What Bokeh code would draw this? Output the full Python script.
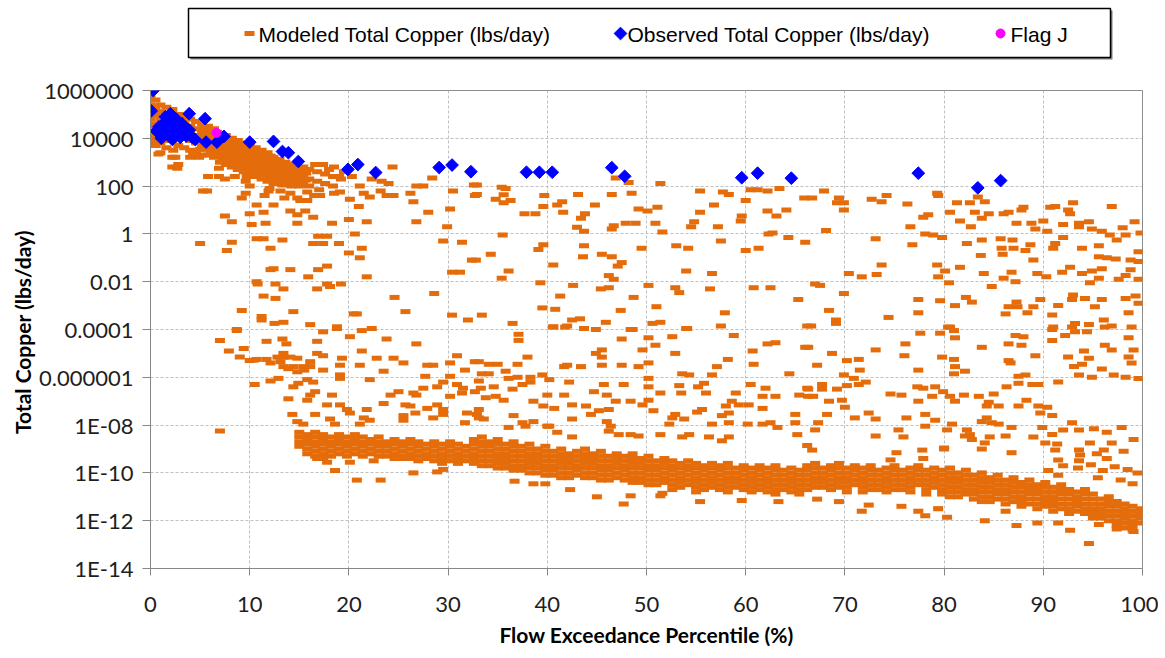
from bokeh.plotting import figure
from bokeh.models import Range1d, FixedTicker, CustomJSTickFormatter
from bokeh.layouts import column
from bokeh.embed import file_html
from bokeh.resources import INLINE
from bokeh.core.properties import value

# ---------------- data ----------------
x_ticks = [0, 10, 20, 30, 40, 50, 60, 70, 80, 90, 100]
y_ticks = [1e-14, 1e-12, 1e-10, 1e-08, 1e-06, 1e-04, 1e-02, 1, 100, 1e4, 1e6]
y_tick_exps = [-14, -12, -10, -8, -6, -4, -2, 0, 2, 4, 6]
y_tick_labels = ["1E-14", "1E-12", "1E-10", "1E-08", "0.000001", "0.0001", "0.01", "1", "100", "10000", "1000000"]
legend_labels = ["Modeled Total Copper  (lbs/day)", "Observed Total Copper  (lbs/day)", "Flag J"]

# Observed total copper (diamonds)
obs_x = [0.27, 0.07, 0.85, 0.6, 1.2, 1.4, 1.5, 1.7, 2.0, 2.0, 2.35, 2.5, 2.8, 3.0, 3.3, 3.9, 3.9, 4.2,
         5.5, 5.6, 6.7, 7.4, 10.0, 12.4, 13.3, 13.9, 14.9, 19.9, 20.9, 22.7, 29.1, 30.4, 32.3, 37.9,
         39.2, 40.5, 46.5, 47.8, 59.6, 61.2, 64.6, 77.4, 83.4, 85.7,
         0.9, 1.8, 2.6, 3.6, 4.5, 1.1, 2.2, 3.2, 1.9]
obs_y = [1e6, 1.4e5, 3e4, 2e4, 1.26e4, 4.5e4, 8e4, 2.2e4, 1.07e5, 1.6e4, 4e4, 1.6e4, 3e4, 1.1e4, 1.9e4,
         2.2e4, 1.07e5, 1.1e4, 6.6e4, 6.9e3, 6.9e3, 1.2e4, 6.9e3, 7.4e3, 2.8e3, 2.5e3, 1.07e3, 500, 800,
         370, 600, 760, 400, 380, 380, 380, 590, 257, 224, 347, 214, 347, 85, 170,
         1.6e4, 3.2e4, 6.3e4, 1.26e4, 9e3, 1e4, 9e3, 4e4, 5.6e4]

# Flag J
flag_x = [6.65]
flag_y = [1.7e4]

# Modeled total copper: dense upper cluster, by column (x, values)
mod_top_cols = [
    (0.0, [5e5, 2.5e5, 1.3e5, 6.3e4, 3.2e4, 1.6e4, 8e3]),
    (0.5, [4e5, 2e5, 1e5, 4e4, 2e4, 1e4, 5e3]),
    (1.0, [2.5e5, 1.3e5, 6.3e4, 2.5e4, 1.3e4, 6.3e3, 2.5e3]),
    (1.6, [2e5, 1e5, 4e4, 2e4, 8e3, 4e3]),
    (2.2, [1.6e5, 6.3e4, 3.2e4, 1.6e4, 8e3, 1.6e3]),
    (2.8, [1e5, 5e4, 2.5e4, 1e4, 5e3, 800]),
    (3.4, [8e4, 4e4, 2e4, 1e4, 4e3]),
    (4.0, [6.3e4, 3.2e4, 1.6e4, 8e3, 3.2e3, 1.6e3]),
    (4.6, [5e4, 2.5e4, 1.3e4, 6.3e3, 2.5e3]),
    (5.2, [4e4, 2e4, 1e4, 5e3, 2e3]),
    (5.5, [2.8e4, 1.4e4, 7e3, 3.5e3]),
    (5.8, [3.2e4, 1.6e4, 8e3, 4e3, 2e3, 250]),
    (6.1, [2.2e4, 1.1e4, 5.6e3, 2.8e3]),
    (6.4, [2.5e4, 1.3e4, 6.3e3, 3.2e3, 1.6e3]),
    (6.7, [1.8e4, 9e3, 4.5e3, 2.2e3]),
    (7.0, [1.6e4, 8e3, 4e3, 2e3, 1e3]),
    (7.3, [1.1e4, 5.6e3, 2.8e3, 1.4e3]),
    (7.6, [1.3e4, 6.3e3, 3.2e3, 1.6e3, 800]),
    (7.9, [9e3, 4.5e3, 2.2e3, 1.1e3]),
    (8.2, [1e4, 5e3, 2.5e3, 1.3e3, 630]),
    (8.5, [7e3, 3.5e3, 1.8e3, 900]),
    (8.8, [8e3, 4e3, 2e3, 1e3, 500]),
    (9.1, [5.6e3, 2.8e3, 1.4e3, 700]),
    (9.4, [6.3e3, 3.2e3, 1.6e3, 800, 400]),
    (9.7, [4.5e3, 2.2e3, 1.1e3, 560]),
    (10.0, [5e3, 2.5e3, 1.3e3, 630, 320]),
    (10.3, [3.5e3, 1.8e3, 900, 450]),
    (10.6, [4e3, 2e3, 1e3, 500, 250]),
    (10.9, [2.8e3, 1.4e3, 700, 350]),
    (11.2, [3.2e3, 1.6e3, 800, 400, 200]),
    (11.5, [2.2e3, 1.1e3, 560, 280]),
    (11.8, [2.5e3, 1.3e3, 630, 320, 160]),
    (12.1, [1.8e3, 900, 450, 220]),
    (12.4, [1.6e3, 800, 500, 250, 130]),
    (12.7, [1.1e3, 560, 280, 140]),
    (13.0, [1.3e3, 630, 320, 160]),
    (13.3, [900, 450, 220, 110]),
    (13.6, [1e3, 500, 250, 130]),
    (13.9, [700, 350, 180]),
    (14.2, [800, 400, 200, 100]),
    (14.5, [560, 280, 140]),
    (14.8, [630, 320, 160]),
    (15.1, [450, 220, 110]),
    (15.4, [630, 250, 130]),
    (15.7, [350, 180]),
    (16.0, [500, 200, 100]),
    (16.8, [400, 160]),
    (17.6, [320, 130]),
    (18.4, [250, 100]),
    (19.2, [200]),
]

# Modeled: dense low band, by column (x, values)
mod_band_cols = [
    (15.0, [5e-9, 3.2e-9, 2e-9, 1.3e-9]),
    (15.8, [4e-9, 2.5e-9, 1.6e-9, 1e-9, 6.3e-10]),
    (16.6, [5e-9, 3.2e-9, 2e-9, 1.3e-9, 8e-10, 5e-10]),
    (17.4, [4e-9, 2.5e-9, 1.6e-9, 1e-9, 6.3e-10, 4e-10]),
    (18.2, [3.2e-9, 2e-9, 1.3e-9, 8e-10, 5e-10]),
    (19.0, [4e-9, 2.5e-9, 1.6e-9, 1e-9, 6.3e-10]),
    (19.8, [3.2e-9, 2e-9, 1.3e-9, 8e-10, 5e-10]),
    (20.6, [4e-9, 2.5e-9, 1.6e-9, 1e-9, 6.3e-10]),
    (21.4, [3.2e-9, 2e-9, 1.3e-9, 8e-10, 5e-10]),
    (22.2, [2.5e-9, 1.6e-9, 1e-9, 6.3e-10]),
    (23.0, [3.2e-9, 2e-9, 1.3e-9, 8e-10, 5e-10]),
    (23.8, [2e-9, 1.3e-9, 8e-10, 5e-10]),
    (24.6, [2.5e-9, 1.6e-9, 1e-9, 6.3e-10, 4e-10]),
    (25.4, [2e-9, 1.3e-9, 8e-10, 5e-10]),
    (26.2, [2.5e-9, 1.6e-9, 1e-9, 6.3e-10, 4e-10]),
    (27.0, [2e-9, 1.3e-9, 8e-10, 5e-10, 3.2e-10]),
    (27.8, [1.6e-9, 1e-9, 6.3e-10, 4e-10]),
    (28.6, [2e-9, 1.3e-9, 8e-10, 5e-10, 3.2e-10]),
    (29.4, [1.6e-9, 1e-9, 6.3e-10, 4e-10, 2.5e-10]),
    (30.2, [2e-9, 1.3e-9, 8e-10, 5e-10, 3.2e-10]),
    (31.0, [1.6e-9, 1e-9, 6.3e-10, 4e-10, 2.5e-10]),
    (31.8, [1.3e-9, 8e-10, 5e-10, 3.2e-10]),
    (32.6, [2.5e-9, 1.6e-9, 1e-9, 6.3e-10, 4e-10, 2.5e-10]),
    (33.4, [3.2e-9, 2e-9, 1.3e-9, 8e-10, 5e-10, 3.2e-10, 2e-10]),
    (34.2, [2e-9, 1.3e-9, 8e-10, 5e-10, 3.2e-10, 2e-10]),
    (35.0, [2.5e-9, 1.6e-9, 1e-9, 6.3e-10, 4e-10, 2.5e-10, 1.6e-10]),
    (35.8, [1.6e-9, 1e-9, 6.3e-10, 4e-10, 2.5e-10, 1.6e-10]),
    (36.6, [2e-9, 1.3e-9, 8e-10, 5e-10, 3.2e-10, 2e-10, 1.3e-10]),
    (37.4, [1.3e-9, 8e-10, 5e-10, 3.2e-10, 2e-10, 1.3e-10]),
    (38.2, [1.6e-9, 1e-9, 6.3e-10, 4e-10, 2.5e-10, 1.6e-10, 1e-10]),
    (39.0, [1e-9, 6.3e-10, 4e-10, 2.5e-10, 1.6e-10, 1e-10]),
    (39.8, [1.3e-9, 8e-10, 5e-10, 3.2e-10, 2e-10, 1.3e-10, 8e-11]),
    (40.6, [8e-10, 5e-10, 3.2e-10, 2e-10, 1.3e-10, 8e-11]),
    (41.4, [1e-9, 6.3e-10, 4e-10, 2.5e-10, 1.6e-10, 1e-10, 6.3e-11]),
    (42.2, [6.3e-10, 4e-10, 2.5e-10, 1.6e-10, 1e-10, 6.3e-11]),
    (43.0, [8e-10, 5e-10, 3.2e-10, 2e-10, 1.3e-10, 8e-11]),
    (43.8, [1e-9, 6.3e-10, 4e-10, 2.5e-10, 1.6e-10, 1e-10, 6.3e-11]),
    (44.6, [6.3e-10, 4e-10, 2.5e-10, 1.6e-10, 1e-10, 6.3e-11]),
    (45.4, [8e-10, 5e-10, 3.2e-10, 2e-10, 1.3e-10, 8e-11, 5e-11]),
    (46.2, [5e-10, 3.2e-10, 2e-10, 1.3e-10, 8e-11, 5e-11]),
    (47.0, [6.3e-10, 4e-10, 2.5e-10, 1.6e-10, 1e-10, 6.3e-11]),
    (47.8, [5e-10, 3.2e-10, 2e-10, 1.3e-10, 8e-11, 5e-11]),
    (48.6, [6.3e-10, 4e-10, 2.5e-10, 1.6e-10, 1e-10, 6.3e-11, 4e-11]),
    (49.4, [4e-10, 2.5e-10, 1.6e-10, 1e-10, 6.3e-11, 4e-11]),
    (50.2, [5e-10, 3.2e-10, 2e-10, 1.3e-10, 8e-11, 5e-11, 3.2e-11]),
    (51.0, [3.2e-10, 2e-10, 1.3e-10, 8e-11, 5e-11, 3.2e-11]),
    (51.8, [4e-10, 2.5e-10, 1.6e-10, 1e-10, 6.3e-11, 4e-11]),
    (52.6, [3.2e-10, 2e-10, 1.3e-10, 8e-11, 5e-11, 3.2e-11, 2e-11]),
    (53.4, [2.5e-10, 1.6e-10, 1e-10, 6.3e-11, 4e-11, 2.5e-11]),
    (54.2, [3.2e-10, 2e-10, 1.3e-10, 8e-11, 5e-11, 3.2e-11]),
    (55.0, [2.5e-10, 1.6e-10, 1e-10, 6.3e-11, 4e-11, 2.5e-11, 1.6e-11]),
    (55.8, [2e-10, 1.3e-10, 8e-11, 5e-11, 3.2e-11, 2e-11]),
    (56.6, [2.5e-10, 1.6e-10, 1e-10, 6.3e-11, 4e-11, 2.5e-11]),
    (57.4, [2e-10, 1.3e-10, 8e-11, 5e-11, 3.2e-11, 2e-11]),
    (58.2, [2.5e-10, 1.6e-10, 1e-10, 6.3e-11, 4e-11, 2.5e-11, 1.6e-11]),
    (59.0, [1.6e-10, 1e-10, 6.3e-11, 4e-11, 2.5e-11]),
    (59.8, [2e-10, 1.3e-10, 8e-11, 5e-11, 3.2e-11, 2e-11]),
    (60.6, [1.6e-10, 1e-10, 6.3e-11, 4e-11, 2.5e-11, 1.6e-11]),
    (61.4, [2e-10, 1.3e-10, 8e-11, 5e-11, 3.2e-11, 2e-11]),
    (62.2, [1.6e-10, 1e-10, 6.3e-11, 4e-11, 2.5e-11, 1.6e-11]),
    (63.0, [2e-10, 1.3e-10, 8e-11, 5e-11, 3.2e-11, 2e-11, 1.3e-11]),
    (63.8, [1.3e-10, 8e-11, 5e-11, 3.2e-11, 2e-11]),
    (64.6, [1.6e-10, 1e-10, 6.3e-11, 4e-11, 2.5e-11, 1.6e-11]),
    (65.4, [1.3e-10, 8e-11, 5e-11, 3.2e-11, 2e-11, 1.3e-11]),
    (66.2, [2e-10, 1.3e-10, 8e-11, 5e-11, 3.2e-11, 2e-11]),
    (67.0, [2.5e-10, 1.6e-10, 1e-10, 6.3e-11, 4e-11, 2.5e-11]),
    (67.8, [1.6e-10, 1e-10, 6.3e-11, 4e-11, 2.5e-11]),
    (68.6, [2e-10, 1.3e-10, 8e-11, 5e-11, 3.2e-11, 2e-11]),
    (69.4, [2.5e-10, 1.6e-10, 1e-10, 6.3e-11, 4e-11, 2.5e-11]),
    (70.2, [1.6e-10, 1e-10, 6.3e-11, 4e-11, 2.5e-11, 1.6e-11]),
    (71.0, [2e-10, 1.3e-10, 8e-11, 5e-11, 3.2e-11]),
    (71.8, [1.6e-10, 1e-10, 6.3e-11, 4e-11, 2.5e-11, 1.6e-11]),
    (72.6, [2e-10, 1.3e-10, 8e-11, 5e-11, 3.2e-11, 2e-11]),
    (73.4, [1.3e-10, 8e-11, 5e-11, 3.2e-11, 2e-11]),
    (74.2, [1.6e-10, 1e-10, 6.3e-11, 4e-11, 2.5e-11, 1.6e-11]),
    (75.0, [2e-10, 1.3e-10, 8e-11, 5e-11, 3.2e-11, 2e-11]),
    (75.8, [1.3e-10, 8e-11, 5e-11, 3.2e-11, 2e-11]),
    (76.6, [1.6e-10, 1e-10, 6.3e-11, 4e-11, 2.5e-11, 1.6e-11]),
    (77.4, [2e-10, 1.3e-10, 8e-11, 5e-11, 3.2e-11]),
    (78.2, [1.3e-10, 8e-11, 5e-11, 3.2e-11, 2e-11, 1.3e-11]),
    (79.0, [1.6e-10, 1e-10, 6.3e-11, 4e-11, 2.5e-11]),
    (79.8, [1.3e-10, 8e-11, 5e-11, 3.2e-11, 2e-11, 1.3e-11]),
    (80.6, [1.6e-10, 1e-10, 6.3e-11, 4e-11, 2.5e-11, 1.6e-11, 1e-11]),
    (81.4, [1e-10, 6.3e-11, 4e-11, 2.5e-11, 1.6e-11, 1e-11]),
    (82.2, [1.3e-10, 8e-11, 5e-11, 3.2e-11, 2e-11, 1.3e-11]),
    (83.0, [8e-11, 5e-11, 3.2e-11, 2e-11, 1.3e-11, 8e-12]),
    (83.8, [1e-10, 6.3e-11, 4e-11, 2.5e-11, 1.6e-11, 1e-11, 6.3e-12]),
    (84.6, [6.3e-11, 4e-11, 2.5e-11, 1.6e-11, 1e-11, 6.3e-12]),
    (85.4, [8e-11, 5e-11, 3.2e-11, 2e-11, 1.3e-11, 8e-12]),
    (86.2, [5e-11, 3.2e-11, 2e-11, 1.3e-11, 8e-12, 5e-12]),
    (87.0, [6.3e-11, 4e-11, 2.5e-11, 1.6e-11, 1e-11, 6.3e-12]),
    (87.8, [4e-11, 2.5e-11, 1.6e-11, 1e-11, 6.3e-12, 4e-12]),
    (88.6, [5e-11, 3.2e-11, 2e-11, 1.3e-11, 8e-12, 5e-12]),
    (89.4, [3.2e-11, 2e-11, 1.3e-11, 8e-12, 5e-12, 3.2e-12]),
    (90.2, [4e-11, 2.5e-11, 1.6e-11, 1e-11, 6.3e-12, 4e-12]),
    (91.0, [2.5e-11, 1.6e-11, 1e-11, 6.3e-12, 4e-12, 2.5e-12]),
    (91.8, [3.2e-11, 2e-11, 1.3e-11, 8e-12, 5e-12, 3.2e-12]),
    (92.6, [2e-11, 1.3e-11, 8e-12, 5e-12, 3.2e-12, 2e-12]),
    (93.4, [1.6e-11, 1e-11, 6.3e-12, 4e-12, 2.5e-12]),
    (94.2, [2e-11, 1.3e-11, 8e-12, 5e-12, 3.2e-12, 2e-12]),
    (95.0, [1.3e-11, 8e-12, 5e-12, 3.2e-12, 2e-12, 1.3e-12]),
    (95.8, [8e-12, 5e-12, 3.2e-12, 2e-12, 1.3e-12]),
    (96.6, [1e-11, 6.3e-12, 4e-12, 2.5e-12, 1.6e-12, 1e-12]),
    (97.4, [6.3e-12, 4e-12, 2.5e-12, 1.6e-12, 1e-12, 6.3e-13]),
    (98.2, [5e-12, 3.2e-12, 2e-12, 1.3e-12, 8e-13, 5e-13]),
    (99.0, [4e-12, 2.5e-12, 1.6e-12, 1e-12, 6.3e-13, 4e-13]),
    (99.8, [3.2e-12, 2e-12, 1.3e-12, 8e-13]),
]

# Modeled: scattered points, upper part (x, value)
mod_hi = [
    (0.3, 8e3), (0.8, 2.2e3), (0.5, 5e3), (2.3, 3.2e3), (2.5, 1.6e3), (2.2, 630), (2.7, 560), (4.3, 2.2e3),
    (5.0, 3.5e3), (4.9, 1.6e3), (5.3, 63), (6.9, 560), (6.9, 250), (7.5, 200), (8.5, 250), (9.7, 250),
    (10.0, 100), (9.6, 160), (5.7, 63), (9.6, 50), (9.2, 32), (7.5, 5.6), (8.2, 3.2), (10.0, 7), (10.7, 16),
    (11.4, 8), (12.4, 16), (11.6, 2.8), (10.2, 2.5), (5.0, 0.4), (8.2, 0.45), (7.7, 0.2), (10.7, 0.63),
    (11.4, 0.63), (12.1, 0.25), (13.3, 0.56), (14.1, 9), (14.8, 6.3), (15.6, 9), (14.8, 2.8), (16.4, 5),
    (15.1, 25), (15.8, 25), (16.4, 0.4), (17.4, 0.4), (16.9, 0.8), (17.8, 0.8), (19.0, 0.4), (18.3, 2.8),
    (20.0, 4), (21.0, 14), (20.6, 1), (21.3, 0.25), (20.0, 0.16), (21.1, 0.1), (21.8, 3.2), (21.8, 0.016),
    (20.1, 28), (21.5, 50), (22.1, 35), (23.2, 63), (23.8, 40), (24.5, 40), (26.8, 100), (27.5, 100),
    (26.2, 50), (26.5, 22), (26.8, 3.2), (28.0, 8), (28.4, 220), (30.2, 11), (29.9, 2), (29.5, 0.5),
    (31.4, 0.45), (32.4, 0.08), (30.4, 0.025), (31.2, 0.025), (32.6, 110), (32.7, 40), (30.5, 63),
    (24.4, 630), (18.5, 630), (17.4, 800), (16.6, 800), (20.3, 250), (21.1, 100), (22.3, 200), (23.3, 160),
    (24.0, 130), (10.7, 0.01), (12.6, 0.008), (13.4, 0.005), (11.4, 0.0025), (12.6, 0.002), (12.1, 0.032),
    (12.4, 0.035), (14.1, 0.032), (15.9, 0.016), (16.9, 0.032), (17.8, 0.045), (16.8, 0.005), (17.8, 0.008),
    (18.1, 0.0063), (19.2, 0.008), (24.6, 0.0022), (25.7, 5.6e-4), (20.5, 4.5e-4), (20.8, 4.5e-4),
    (28.6, 0.0032), (9.2, 6.3e-4), (11.2, 3.5e-4), (11.2, 2.5e-4), (14.4, 5.6e-4), (12.5, 1.8e-4),
    (13.4, 2e-4), (16.1, 1.6e-4), (18.8, 1.3e-4), (30.4, 4e-4), (32.0, 2.5e-4), (8.7, 1e-4), (10.8, 0.008),
    (19.5, 400), (18.0, 500), (19.0, 250), (11.9, 63), (13.1, 63), (14.1, 50), (14.8, 32), (15.8, 56),
    (17.1, 40), (18.5, 50), (19.1, 56), (12.0, 80), (11.5, 40), (13.5, 32), (16.5, 40), (15.0, 100), (17.0, 70),
    (32.9, 110), (32.9, 45), (35.4, 90), (35.8, 80), (34.8, 28), (35.6, 43), (35.6, 20), (36.3, 25),
    (37.7, 7), (38.8, 7), (39.7, 40), (39.6, 14), (41.0, 16), (41.5, 22), (41.6, 8), (43.1, 45), (43.8, 7),
    (44.8, 16), (43.4, 4.5), (43.0, 1.9), (43.7, 1.3), (46.5, 45), (46.9, 220), (48.2, 140), (48.5, 50),
    (46.7, 2.2), (46.5, 1.6), (47.9, 2.8), (48.9, 2.8), (49.2, 11), (50.1, 9), (51.1, 13), (51.4, 130),
    (50.9, 2.8), (51.6, 1.2), (55.4, 63), (57.7, 56), (58.3, 45), (56.8, 16), (55.4, 8), (54.8, 3.2),
    (54.5, 2), (57.2, 2), (60.0, 25), (59.6, 5.6), (59.5, 3.5), (60.5, 70), (61.2, 70), (62.2, 63),
    (63.4, 80), (65.9, 32), (62.2, 9), (63.1, 5.6), (64.1, 10), (62.7, 1.1), (64.3, 0.7), (66.0, 0.45),
    (32.8, 0.08), (34.3, 0.14), (35.5, 0.9), (36.1, 0.028), (35.4, 0.014), (39.1, 0.22), (39.6, 0.35),
    (40.6, 0.05), (39.3, 0.009), (43.7, 0.32), (43.6, 0.11), (45.5, 0.14), (46.5, 0.11), (47.5, 0.063),
    (47.1, 0.045), (46.2, 0.018), (46.7, 0.0126), (49.5, 0.25), (53.0, 0.32), (54.2, 0.25), (57.5, 0.5),
    (60.0, 0.2), (61.3, 0.25), (62.3, 1), (54.0, 0.028), (56.6, 0.022), (42.6, 0.007), (45.4, 0.005),
    (46.2, 0.0056), (48.7, 0.0022), (50.2, 0.007), (52.9, 0.0056), (53.3, 0.0035), (56.4, 0.005),
    (60.8, 0.0056), (62.5, 0.0056), (65.3, 0.0018), (41.3, 0.0025), (39.5, 8e-4), (40.8, 7e-4),
    (33.4, 4e-4), (36.5, 1.8e-4), (42.5, 2.5e-4), (43.3, 2.8e-4), (42.0, 1.4e-4), (40.6, 1.3e-4),
    (45.9, 2e-4), (47.4, 6.3e-4), (48.6, 1e-4), (51.0, 9e-4), (50.6, 1.8e-4), (51.4, 2e-4), (54.0, 1.1e-4),
    (57.9, 5e-4), (57.5, 1.4e-4), (66.2, 1.4e-4),
    (67.9, 63), (66.7, 32), (69.4, 32), (69.2, 20), (69.9, 20), (69.9, 10), (72.7, 28), (73.7, 22),
    (74.2, 40), (76.3, 18), (79.3, 50), (79.4, 40), (77.9, 5), (78.4, 6.3), (76.6, 2), (68.1, 1.4),
    (73.1, 0.63), (76.8, 0.35), (78.1, 1), (78.9, 0.9), (79.8, 0.7), (81.3, 20), (82.6, 20), (84.1, 22),
    (83.4, 35), (80.6, 8), (81.6, 3.5), (83.1, 8), (83.8, 4.5), (84.5, 7), (86.0, 7), (86.5, 8), (87.3, 2.8),
    (88.0, 13), (87.8, 10), (88.8, 2.8), (90.0, 3.5), (89.2, 1.6), (90.4, 1.3), (90.7, 13), (91.2, 14),
    (92.5, 10), (93.0, 20), (92.7, 7), (92.0, 2.5), (93.6, 2.8), (93.6, 2), (94.6, 3.2), (94.9, 1.6),
    (96.9, 14), (99.2, 3.2), (98.0, 1.8), (95.9, 1.3), (96.7, 0.9), (97.4, 0.56), (98.3, 0.9), (99.8, 1.1),
    (82.7, 2), (82.3, 0.4), (83.8, 0.56), (85.7, 0.63), (86.9, 0.56), (87.0, 0.25), (85.8, 0.25),
    (85.9, 0.14), (83.7, 0.126), (88.2, 0.2), (88.7, 0.35), (89.0, 0.08), (91.2, 0.4), (91.0, 0.25),
    (92.0, 0.7), (93.9, 0.25), (95.6, 0.32), (95.6, 0.11), (96.4, 0.1), (97.3, 0.09), (99.6, 0.18),
    (98.8, 0.08), (99.6, 0.07), (92.7, 0.04), (91.9, 0.025), (94.9, 0.028), (95.9, 0.035), (98.8, 0.032),
    (97.6, 0.0126), (98.3, 0.018), (99.6, 0.0126), (94.7, 0.009), (93.9, 0.022), (95.6, 0.014),
    (89.4, 0.022), (90.3, 0.016), (86.8, 0.025), (86.0, 0.014), (87.2, 0.01), (84.0, 0.022), (81.6, 0.04),
    (80.1, 0.028), (79.3, 0.05), (79.4, 0.016), (80.5, 0.009), (73.7, 0.05), (73.2, 0.02), (70.4, 0.022),
    (71.7, 0.016), (67.0, 0.008), (67.5, 0.007), (69.9, 0.0032), (84.8, 0.0063), (82.2, 0.0022),
    (82.8, 0.0014), (81.1, 0.001), (79.6, 0.0016), (77.4, 0.0018), (77.4, 5e-4), (86.5, 9e-4), (87.4, 9e-4),
    (87.3, 0.0014), (88.4, 5e-4), (89.0, 9e-4), (89.7, 0.0018), (91.5, 0.001), (93.0, 0.0028),
    (92.9, 0.0018), (94.2, 0.002), (95.9, 0.0018), (95.2, 9e-4), (98.3, 0.002), (99.3, 0.0025),
    (98.6, 5e-4), (99.6, 0.00126), (96.1, 2.5e-4), (94.6, 1.6e-4), (93.2, 1.8e-4), (92.9, 1.26e-4),
    (91.0, 1.26e-4), (96.9, 1.4e-4), (98.9, 1.26e-4), (74.4, 3.2e-4), (68.4, 6.3e-4), (69.1, 2.5e-4),
    (69.1, 1.8e-4), (66.6, 1.4e-4), (80.4, 1.26e-4), (86.2, 4.5e-4), (90.9, 4e-4),
]

# Modeled: scattered points, middle part (x, value)
mod_mid = [
    (7.0, 3.5e-5), (7.9, 1.26e-5), (9.0, 7e-6), (9.4, 1.6e-5), (10.0, 5e-6), (10.7, 5.6e-6), (11.7, 5.6e-6),
    (11.7, 3.2e-5), (13.3, 4e-5), (13.7, 2.5e-5), (8.7, 9e-5), (10.5, 5e-7), (12.1, 7e-7), (12.9, 9e-7),
    (13.9, 1.26e-7), (14.3, 2.8e-8), (14.8, 1.4e-8), (15.4, 1.1e-8), (14.4, 4e-7), (14.9, 5.6e-7),
    (15.8, 8e-7), (16.4, 6.3e-7), (16.6, 2.5e-7), (16.1, 1.8e-7), (15.8, 1.1e-7), (16.6, 2.8e-8),
    (18.1, 1.8e-8), (18.6, 1.1e-8), (17.8, 7e-8), (18.3, 1.8e-7), (19.1, 7e-8), (19.8, 4.5e-8),
    (20.1, 3.2e-8), (21.5, 2e-8), (21.8, 4.5e-8), (21.1, 1.1e-8), (22.1, 1.6e-8), (23.5, 8e-8),
    (24.2, 1.8e-7), (25.0, 2.5e-7), (25.7, 7e-8), (25.5, 1.6e-8), (26.8, 1.8e-7), (27.9, 5e-8),
    (28.9, 7e-8), (29.5, 2.8e-8), (30.2, 1.6e-7), (30.9, 5e-7), (31.9, 3.2e-8), (31.7, 1.26e-8),
    (32.9, 2.8e-8), (13.4, 7e-6), (14.1, 7e-6), (14.8, 6.3e-6), (14.4, 2.8e-6), (15.4, 2.8e-6),
    (16.1, 4.5e-6), (17.4, 2e-6), (16.8, 1e-5), (17.4, 8e-6), (16.8, 3.2e-5), (17.4, 8e-5), (18.8, 1.1e-4),
    (19.1, 3.2e-6), (19.3, 6.3e-6), (20.1, 5e-5), (21.3, 9e-5), (22.3, 1.1e-4), (21.3, 1.26e-5),
    (21.1, 3.2e-6), (19.1, 1.26e-6), (19.1, 9e-7), (22.1, 8e-7), (22.8, 6.3e-6), (23.5, 1.8e-6),
    (23.8, 4e-5), (24.5, 6.3e-6), (25.5, 4e-6), (26.8, 2.5e-5), (27.9, 3.2e-6), (28.5, 3.2e-6),
    (30.2, 4e-6), (30.9, 8e-6), (31.7, 2e-6), (32.7, 4.5e-6), (27.7, 1.1e-6), (29.5, 6.3e-7),
    (30.2, 1.1e-6), (31.5, 3.5e-7), (31.4, 2.2e-7), (32.7, 2.5e-7), (28.9, 4e-7), (27.5, 3.5e-7),
    (26.5, 2.2e-7), (26.2, 6.3e-8), (26.7, 3.2e-8), (28.5, 2e-8), (29.5, 4.5e-8), (25.5, 2.5e-8),
    (10.4, 5.2e-6), (12.8, 7e-6), (13.1, 4.5e-6), (13.4, 2.8e-6), (13.9, 2.3e-6), (14.8, 1.7e-6),
    (15.5, 2e-6), (16.1, 2.8e-6), (12.1, 4e-6), (13.4, 1e-5), (7.0, 5.6e-9),
    (37.1, 6.3e-5), (37.1, 3.5e-5), (40.6, 1.26e-4), (41.8, 1.26e-4), (43.7, 1.1e-4), (44.9, 1e-4),
    (48.4, 1e-4), (47.5, 4e-5), (50.2, 4.5e-5), (50.9, 2.2e-5), (52.6, 5e-5), (54.1, 1.1e-4),
    (49.6, 1.4e-5), (45.5, 1.4e-5), (45.5, 7e-6), (44.9, 1e-5), (38.0, 7e-6), (37.0, 3.5e-6),
    (41.7, 2.8e-6), (42.0, 3.2e-6), (43.4, 2.8e-6), (45.5, 3.2e-6), (47.5, 3.2e-6), (49.2, 2.8e-6),
    (50.2, 4e-6), (52.9, 1e-5), (53.6, 1.4e-6), (54.3, 1.26e-6), (57.1, 2.8e-6), (58.2, 5.6e-6),
    (58.8, 5.6e-5), (60.7, 1.26e-5), (60.8, 3.5e-6), (62.2, 2.5e-5), (63.0, 2.8e-5), (64.4, 1.4e-6),
    (66.0, 1.8e-5), (33.1, 4.5e-6), (34.1, 3.5e-6), (35.0, 3.5e-6), (35.8, 1.8e-6), (33.4, 1.4e-6),
    (34.1, 1.4e-6), (36.1, 9e-7), (37.0, 1e-6), (38.3, 1e-6), (39.5, 1.26e-6), (40.2, 8e-7), (42.2, 6.3e-7),
    (33.1, 7e-7), (33.3, 3.5e-7), (34.6, 4e-7), (36.5, 3.2e-7), (37.5, 5e-7), (38.3, 6.3e-7), (33.8, 1.4e-7),
    (34.8, 1.6e-7), (35.6, 1.1e-7), (38.6, 1e-7), (40.0, 1.8e-7), (41.7, 1.8e-7), (39.6, 6.3e-8),
    (40.7, 5e-8), (42.5, 7e-8), (43.9, 6.3e-8), (44.7, 2.5e-7), (45.7, 5e-7), (46.0, 1.8e-7), (46.9, 1e-7),
    (47.7, 5e-7), (46.2, 4.5e-8), (44.4, 2.8e-8), (45.2, 4e-8), (33.1, 4.5e-8), (33.6, 1.8e-8),
    (36.6, 2.5e-8), (37.5, 1.26e-8), (38.6, 1.4e-8), (42.5, 1.8e-8), (46.0, 1.4e-8), (46.4, 9e-9),
    (40.0, 9e-9), (41.0, 5e-9), (48.4, 1e-7), (49.6, 7e-8), (50.2, 1.1e-7), (50.7, 4e-8), (51.4, 2.2e-7),
    (50.2, 4e-7), (50.2, 9e-7), (53.3, 4.5e-7), (53.5, 2.2e-7), (52.9, 2.8e-8), (52.6, 2e-8), (53.8, 1.8e-8),
    (52.3, 1.1e-8), (51.4, 4e-9), (55.2, 4e-7), (55.8, 5.6e-7), (56.0, 2.2e-7), (56.6, 1.26e-6),
    (55.1, 3.5e-8), (55.6, 4.5e-8), (56.6, 1.1e-8), (58.0, 6.3e-8), (58.6, 1e-7), (59.3, 7e-8),
    (57.6, 2.5e-8), (58.3, 3.2e-8), (58.3, 1.26e-8), (59.0, 2.2e-7), (60.5, 5e-7), (62.0, 3.5e-7),
    (61.7, 1.6e-7), (60.3, 7e-8), (61.7, 5e-8), (63.0, 1.6e-7), (60.2, 1.1e-8), (61.7, 1.1e-8),
    (62.5, 1.26e-8), (63.2, 8e-9), (65.0, 2.8e-8), (65.0, 1.26e-8), (65.4, 1.8e-7), (66.2, 3.5e-7),
    (65.2, 4e-9), (54.3, 4e-9), (56.3, 3.2e-9), (57.6, 2.2e-9), (58.3, 3.2e-9), (53.6, 3.2e-9),
    (49.2, 3.5e-9), (48.4, 4e-9), (47.2, 4e-9), (46.2, 5.6e-9), (33.1, 2e-8), (36.1, 8e-9), (37.8, 9e-9),
    (40.2, 9e-9), (42.5, 3.2e-9),
    (77.6, 7e-5), (79.6, 7e-5), (81.0, 9e-5), (80.6, 1.26e-4), (81.1, 4.5e-5), (87.2, 5.6e-5), (88.0, 5e-5),
    (90.9, 1e-4), (92.2, 5.6e-5), (93.2, 8e-5), (94.4, 8e-5), (96.2, 1.26e-4), (98.6, 4.5e-5),
    (66.3, 1.8e-5), (68.7, 1e-5), (73.1, 1.4e-5), (76.1, 2.5e-5), (76.0, 8e-6), (70.2, 5e-6), (71.4, 5.6e-6),
    (71.5, 2e-6), (67.2, 3.2e-6), (77.4, 2e-6), (79.8, 7e-6), (81.0, 5.6e-6), (81.1, 2.8e-6), (81.0, 1.4e-6),
    (82.1, 1.8e-6), (83.8, 1.8e-5), (86.5, 2.5e-5), (87.8, 2.2e-5), (86.5, 5e-6), (86.7, 4e-6), (89.2, 8e-6),
    (90.9, 3.5e-5), (92.5, 7e-6), (94.1, 1.26e-5), (94.6, 6.3e-6), (93.1, 2.8e-6), (93.9, 3.5e-6),
    (96.9, 1.4e-5), (96.2, 2.2e-5), (98.6, 7e-6), (99.1, 1.4e-5), (98.9, 4e-6), (88.2, 1.26e-6),
    (87.5, 1.1e-6), (93.6, 1.26e-6), (94.9, 1e-6), (95.9, 2.2e-6), (97.1, 1.26e-6), (98.3, 1e-6),
    (99.6, 9e-7), (69.9, 1.26e-6), (70.9, 9e-7), (72.1, 6.3e-7), (70.2, 4.5e-7), (71.4, 5e-7), (67.7, 5e-7),
    (66.3, 3.2e-7), (67.7, 3.2e-7), (69.2, 3.2e-7), (66.3, 1.6e-7), (74.6, 2e-7), (75.7, 1.8e-7),
    (77.3, 4e-7), (77.9, 3.5e-7), (79.1, 4e-7), (78.8, 1.6e-7), (77.4, 1e-7), (79.9, 2.5e-7), (80.6, 1.6e-7),
    (81.1, 1e-7), (82.0, 1.8e-7), (83.5, 1.6e-7), (85.0, 2e-7), (84.5, 9e-8), (84.3, 6.3e-8), (85.5, 6.3e-8),
    (86.3, 4e-7), (87.5, 5.6e-7), (88.9, 5e-7), (89.5, 5e-7), (91.5, 6.3e-7), (88.3, 1.1e-7), (89.5, 6.3e-8),
    (90.4, 5.6e-8), (87.5, 6.3e-8), (89.7, 3.2e-8), (90.9, 2.5e-8), (66.8, 1.6e-7), (68.4, 1e-7),
    (69.7, 1.1e-7), (70.0, 5.6e-8), (68.2, 2.8e-8), (67.3, 1.26e-8), (67.0, 6.3e-9), (71.0, 2e-8),
    (72.4, 3.2e-8), (73.1, 1.8e-8), (75.4, 6.3e-9), (76.2, 2e-8), (78.1, 2.8e-8), (79.1, 1.6e-8),
    (78.1, 9e-9), (73.1, 3.5e-9), (75.9, 3.2e-9), (80.3, 6.3e-9), (80.8, 1.1e-8), (82.3, 6.3e-9),
    (82.8, 2.5e-9), (82.6, 4e-9), (82.1, 3.5e-9), (83.8, 1e-9), (84.1, 1.8e-9), (84.6, 3.2e-9),
    (84.8, 1.26e-8), (85.5, 1.1e-8), (86.2, 3.5e-9), (83.8, 1.4e-8), (84.3, 2e-8), (86.8, 8e-9),
    (86.8, 7e-10), (89.0, 3.2e-9), (89.9, 8e-9), (90.9, 4e-9), (90.2, 1.8e-9), (91.4, 1.6e-9), (92.0, 6.3e-9),
    (92.9, 1.26e-8), (93.6, 6.3e-9), (95.1, 7e-9), (96.4, 5e-9), (96.9, 1.8e-9), (94.7, 1.8e-9),
    (99.1, 2.5e-9), (97.9, 8e-9), (91.2, 9e-10), (93.6, 9e-10), (93.7, 5.6e-10), (95.4, 6.3e-10),
    (96.1, 9e-10), (98.1, 8e-10), (96.4, 4e-10), (91.5, 3.5e-10), (93.6, 3.2e-10), (66.7, 9e-10),
    (66.2, 1.4e-9), (75.2, 7e-10), (74.6, 3.5e-10), (77.9, 4e-10), (77.8, 9e-10), (80.0, 1e-9), (80.0, 1.1e-9),
]

# Modeled: outliers around the low band (x, value)
mod_low = [
    (92.0, 2e-10), (93.5, 1.6e-10), (94.8, 2.2e-10), (96.0, 1.26e-10), (97.2, 1.8e-10), (98.5, 1.4e-10),
    (99.5, 1e-10), (95.5, 6.3e-11), (97.8, 5e-11), (99.0, 3.5e-11), (91.5, 8e-11), (90.5, 1.26e-10),
    (36.7, 4.5e-11), (38.6, 3.5e-11), (39.8, 3.5e-11), (42.3, 2e-11), (45.0, 1e-11), (47.7, 5e-12),
    (48.4, 1.1e-11), (51.6, 1.4e-11), (55.4, 6.3e-12), (59.6, 7e-12), (63.3, 6.3e-12), (51.4, 1.1e-11),
    (94.6, 1.1e-13), (92.7, 4e-13), (87.3, 6.3e-13), (84.1, 1e-12), (89.4, 8e-13), (91.5, 8e-13),
    (71.7, 2.5e-12), (72.4, 4.5e-12), (69.4, 6.3e-12), (67.2, 8e-12), (75.7, 4e-12), (77.4, 2.5e-12),
    (78.1, 1.6e-12), (80.3, 1.4e-12), (79.4, 3.2e-12), (86.2, 2.5e-12), (95.6, 7e-13), (97.4, 4.5e-13),
    (99.1, 3.5e-13), (98.3, 8e-13), (20.8, 5e-11), (23.2, 5e-11), (18.6, 1.26e-10), (16.8, 4e-10),
    (17.8, 2.8e-10), (20.1, 2.8e-10), (26.5, 1e-10), (28.9, 1.1e-10), (29.5, 1.4e-10), (22.5, 3.2e-10),
    (25.0, 4e-10), (25.8, 4e-10),
]

# ---------------- build modeled table ----------------
mod_x, mod_y = [], []
for cx, vals in mod_top_cols + mod_band_cols:
    for v in vals:
        mod_x.append(cx)
        mod_y.append(v)
for px, pv in mod_hi + mod_mid + mod_low:
    mod_x.append(px)
    mod_y.append(pv)

ORANGE = "#E46C0A"
BLUE = "#0000FF"
MAGENTA = "#FF00FF"
LABEL_FONT = "Lato"

LEFT, RIGHT, FRAME_W = 150, 16, 992

# ---------------- legend strip (coordinates = page pixels) ----------------
leg = figure(frame_width=FRAME_W, frame_height=68, x_range=Range1d(LEFT, LEFT + FRAME_W),
             y_range=Range1d(68, 0), x_axis_location=None, y_axis_location=None,
             toolbar_location=None, output_backend="svg",
             min_border_left=LEFT, min_border_right=RIGHT, min_border_top=0, min_border_bottom=0)
leg.outline_line_color = None
leg.grid.visible = False
leg.quad(left=[190], right=[1112], top=[10], bottom=[59], fill_color="#7f7f7f", line_color=None)
leg.quad(left=[188], right=[1110], top=[8], bottom=[57], fill_color="white",
         line_color="black", line_width=1.5)
leg.rect(x=[249], y=[33], width=10, height=5, width_units="screen", height_units="screen",
         fill_color=ORANGE, line_color=None)
leg.scatter(x=[620], y=[33], marker="square", angle=0.785398, size=9,
            fill_color=BLUE, line_color=BLUE)
leg.scatter(x=[1000], y=[33], marker="circle", size=9, fill_color=MAGENTA, line_color=MAGENTA)
leg.text(x=[258, 627, 1010], y=[34, 34, 34], text=legend_labels, text_baseline="middle",
         text_align="left", text_font=value("Liberation Sans"), text_font_size="21px",
         text_color="black")

# ---------------- main chart ----------------
p = figure(frame_width=FRAME_W, frame_height=478, x_range=Range1d(0, 100), y_range=Range1d(1e-14, 1e6),
           y_axis_type="log", toolbar_location=None, output_backend="svg",
           min_border_left=LEFT, min_border_right=RIGHT, min_border_top=22, min_border_bottom=87)
p.outline_line_color = "#8C8C8C"
p.outline_line_width = 1

p.xaxis.ticker = FixedTicker(ticks=x_ticks, minor_ticks=[])
p.yaxis.ticker = FixedTicker(ticks=y_ticks, minor_ticks=[])
p.yaxis.formatter = CustomJSTickFormatter(args=dict(labels=y_tick_labels, exps=y_tick_exps), code="""
const e = Math.round(Math.log10(tick));
const i = exps.indexOf(e);
return i >= 0 ? labels[i] : '';
""")

for ax in (p.xaxis, p.yaxis):
    ax.axis_line_color = "#868686"
    ax.major_tick_line_color = "#868686"
    ax.major_tick_in = 0
    ax.minor_tick_line_color = None
    ax.major_label_text_font = LABEL_FONT
    ax.major_label_text_font_size = "22px"
    ax.major_label_text_color = "#1e1e1e"
    ax.axis_label_text_font = LABEL_FONT
    ax.axis_label_text_font_size = "21px"
    ax.axis_label_text_font_style = "bold"
    ax.axis_label_text_color = "black"

p.xaxis.major_tick_out = 7
p.yaxis.major_tick_out = 8
p.xaxis.major_label_standoff = 21
p.yaxis.major_label_standoff = 9
p.xaxis.axis_label = "Flow Exceedance Percentile (%)"
p.yaxis.axis_label = "Total Copper  (lbs/day)"
p.xaxis.axis_label_standoff = 7
p.yaxis.axis_label_standoff = 1

p.grid.grid_line_color = "#BFBFBF"
p.grid.grid_line_dash = "3 2"
p.grid.grid_line_width = 1

p.rect(x=mod_x, y=mod_y, width=10, height=5, width_units="screen", height_units="screen",
       fill_color=ORANGE, line_color=None)
p.scatter(x=obs_x, y=obs_y, marker="square", angle=0.785398, size=9,
          fill_color=BLUE, line_color=BLUE)
p.scatter(x=flag_x, y=flag_y, marker="circle", size=9, fill_color=MAGENTA, line_color=MAGENTA)

layout = column(leg, p, spacing=0)
open("out.html", "w").write(file_html(layout, INLINE))
